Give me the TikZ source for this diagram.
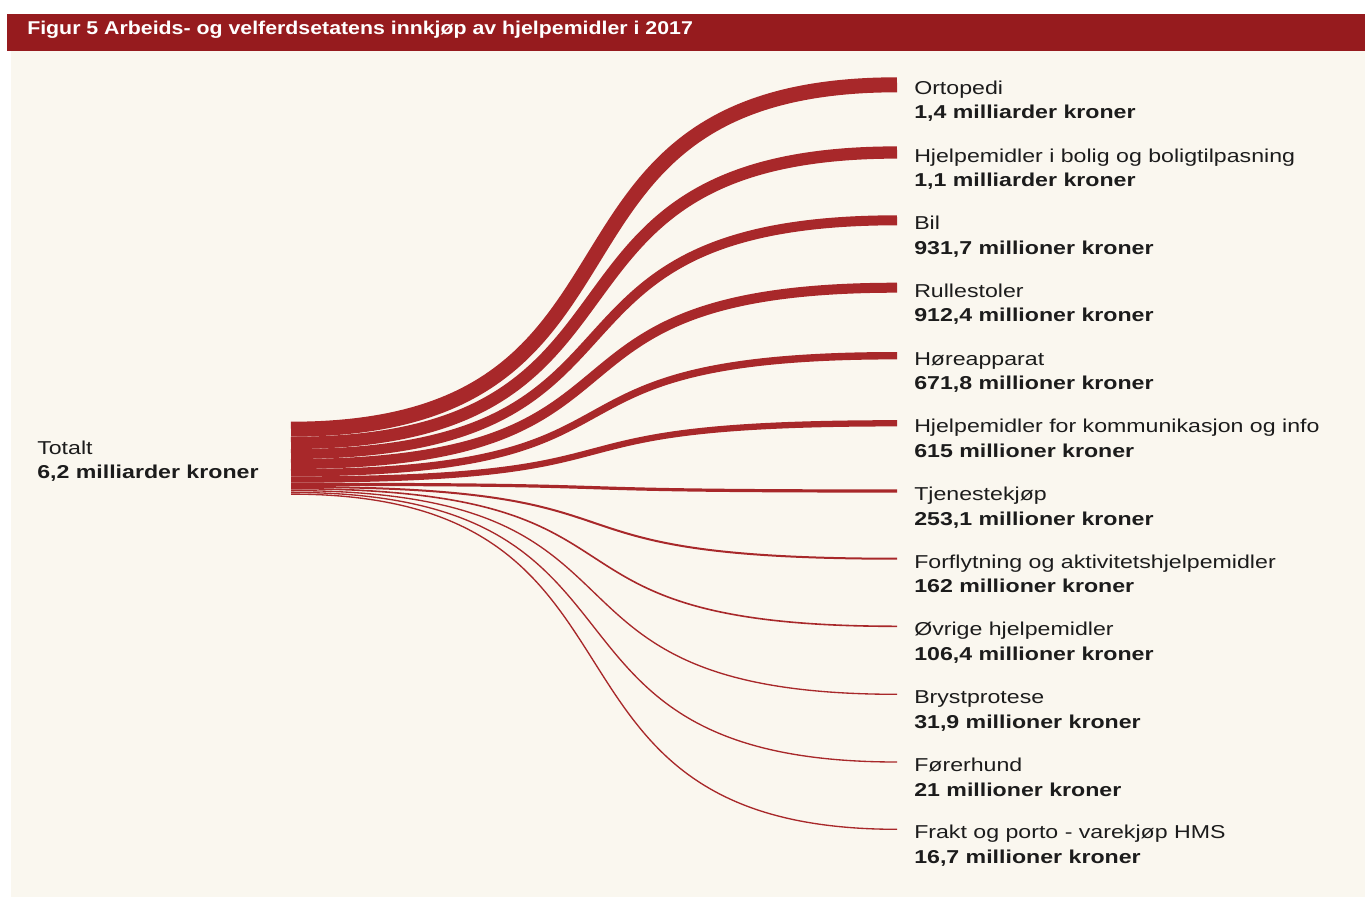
\documentclass[tikz,border=0pt]{standalone}
\usepackage{fontspec}
\setmainfont{Liberation Sans}
\newfontfamily\bodyfont[FakeStretch=1.24]{Liberation Sans}
\newfontfamily\titlefont[FakeStretch=1.15]{Liberation Sans}
\definecolor{barred}{HTML}{961B1E}
\definecolor{flow}{HTML}{A8282A}
\definecolor{cream}{HTML}{FAF7EF}
\definecolor{ink}{HTML}{1C1C1C}
\begin{document}
\begin{tikzpicture}[x=0.75pt,y=-0.75pt,
  flowline/.style={draw=flow, line cap=butt},
  lbl/.style={anchor=base west, inner sep=0pt, text=ink, font=\bodyfont\fontsize{14pt}{16pt}\selectfont},
  val/.style={anchor=base west, inner sep=0pt, text=ink, font=\bodyfont\bfseries\fontsize{14pt}{16pt}\selectfont},
  titletext/.style={anchor=base west, inner sep=0pt, text=white, font=\titlefont\bfseries\fontsize{13.9pt}{16pt}\selectfont}]
% background and frame
\useasboundingbox (0,0) rectangle (1365,897);
\fill[white] (0,0) rectangle (1365,897);
\fill[cream] (11,51) rectangle (1365,897);
\fill[barred] (7,14) rectangle (1365,51);
\node[titletext] (title) at (27,34) {Figur 5 Arbeids- og velferdsetatens innkjøp av hjelpemidler i 2017};

% flows
\foreach \i/\ly/\ry/\w in {
  1/429.2/84.8/11.25,
  2/442.9/152.5/9.2,
  3/454.0/220.3/7.5,
  4/464.0/287.7/7.5,
  5/472.7/355.7/5.55,
  6/479.5/423.3/4.7,
  7/484.3/491.0/2.4,
  8/486.9/558.7/1.5,
  9/488.7/626.3/1.2,
  10/490.6/694.3/1.0,
  11/492.4/762.0/1.0,
  12/494.1/829.3/1.0} {
  \coordinate (L\i) at (291,\ly);
  \coordinate (R\i) at (897,\ry);
  \draw[flowline, line width=\w pt] (L\i) .. controls +(394,0) and +(-394,0) .. (R\i);
}

% left label
\node[lbl] (tot) at (37,454) {Totalt};
\node[val] (totv) at (37,478.5) {6,2 milliarder kroner};

% right labels
\node[lbl] (n1) at (914,94.3) {Ortopedi};
\node[val] (v1) at (914,118.8) {1,4 milliarder kroner};
\node[lbl] (n2) at (914,162) {Hjelpemidler i bolig og boligtilpasning};
\node[val] (v2) at (914,186.5) {1,1 milliarder kroner};
\node[lbl] (n3) at (914,229.8) {Bil};
\node[val] (v3) at (914,254.3) {931,7 millioner kroner};
\node[lbl] (n4) at (914,297.2) {Rullestoler};
\node[val] (v4) at (914,321.7) {912,4 millioner kroner};
\node[lbl] (n5) at (914,365.2) {Høreapparat};
\node[val] (v5) at (914,389.7) {671,8 millioner kroner};
\node[lbl] (n6) at (914,432.8) {Hjelpemidler for kommunikasjon og info};
\node[val] (v6) at (914,457.3) {615 millioner kroner};
\node[lbl] (n7) at (914,500.5) {Tjenestekjøp};
\node[val] (v7) at (914,525) {253,1 millioner kroner};
\node[lbl] (n8) at (914,568.2) {Forflytning og aktivitetshjelpemidler};
\node[val] (v8) at (914,592.7) {162 millioner kroner};
\node[lbl] (n9) at (914,635.8) {Øvrige hjelpemidler};
\node[val] (v9) at (914,660.3) {106,4 millioner kroner};
\node[lbl] (n10) at (914,703.8) {Brystprotese};
\node[val] (v10) at (914,728.3) {31,9 millioner kroner};
\node[lbl] (n11) at (914,771.5) {Førerhund};
\node[val] (v11) at (914,796) {21 millioner kroner};
\node[lbl] (n12) at (914,838.8) {Frakt og porto - varekjøp HMS};
\node[val] (v12) at (914,863.3) {16,7 millioner kroner};
\end{tikzpicture}
\end{document}
